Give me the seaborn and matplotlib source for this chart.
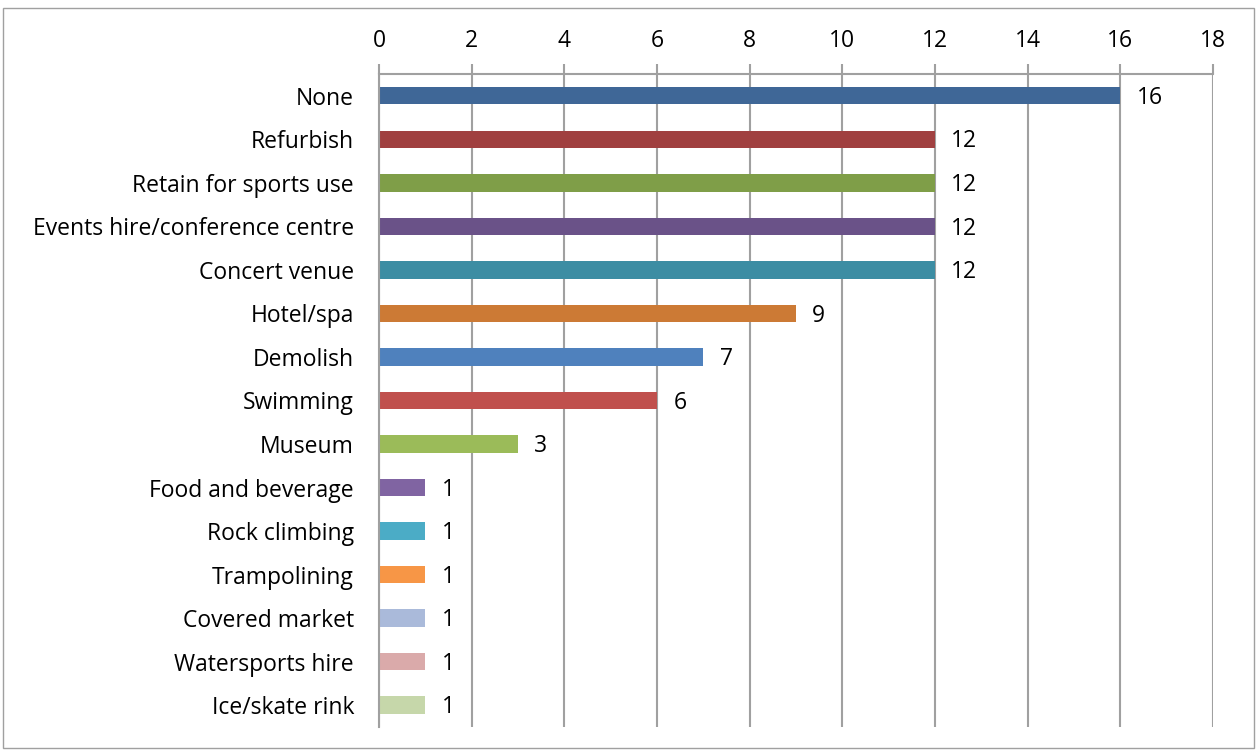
import matplotlib
matplotlib.use("Agg")
import matplotlib.pyplot as plt
import seaborn as sns
import pandas as pd
from matplotlib.patches import Rectangle

# data
categories = ["None", "Refurbish", "Retain for sports use", "Events hire/conference centre",
              "Concert venue", "Hotel/spa", "Demolish", "Swimming", "Museum",
              "Food and beverage", "Rock climbing", "Trampolining", "Covered market",
              "Watersports hire", "Ice/skate rink"]
counts = [16, 12, 12, 12, 12, 9, 7, 6, 3, 1, 1, 1, 1, 1, 1]
colors = ["#3F6797", "#A04040", "#7F9E48", "#6A5288", "#3C8DA3", "#CC7A35",
          "#4F81BD", "#C0504D", "#9BBB59", "#8064A2", "#4BACC6", "#F79646",
          "#AABADA", "#DAAAAA", "#C6D7AA"]
x_ticks = list(range(0, 19, 2))

df = pd.DataFrame({"category": categories, "count": counts})

sns.set_style("white")
plt.rcParams["font.family"] = ["Open Sans", "DejaVu Sans"]
plt.rcParams["text.color"] = "black"

fig = plt.figure(figsize=(12.58, 7.51), dpi=100)
ax = fig.add_axes([0.3013, 0.032, 0.6630, 0.8695])

sns.barplot(data=df, x="count", y="category", hue="category", palette=colors,
            orient="h", width=0.4, legend=False, ax=ax, saturation=1, linewidth=0)

ax.set_xlim(0, 18)
ax.set_xticks(x_ticks)
ax.set_ylim(len(categories) - 0.5, -0.5)
ax.xaxis.tick_top()
ax.grid(axis="x", color="#A0A0A0", linewidth=1.5)
ax.set_axisbelow(True)
ax.set_xlabel("")
ax.set_ylabel("")

# category boundary ticks on the left
ax.set_yticks([i - 0.5 for i in range(len(categories) + 1)], minor=True)
ax.tick_params(axis="y", which="major", length=0, labelsize=16.5, pad=18, labelcolor="black")
ax.tick_params(axis="y", which="minor", length=7, color="#A0A0A0", width=1.5, direction="out")
ax.tick_params(axis="x", which="major", length=7, color="#A0A0A0", width=1.5,
               labelsize=16.5, pad=8, direction="out", labelcolor="black")

for side in ["right", "bottom"]:
    ax.spines[side].set_visible(False)
for side in ["top", "left"]:
    ax.spines[side].set_color("#A0A0A0")
    ax.spines[side].set_linewidth(1.5)

# data labels
for i, v in enumerate(counts):
    ax.text(v + 0.35, i + 0.05, str(v), va="center", ha="left", fontsize=16.5, color="black")

# chart border
fig.patches.append(Rectangle((0.002, 0.004), 0.995, 0.985, transform=fig.transFigure,
                             fill=False, edgecolor="#A0A0A0", linewidth=1))

fig.savefig("out.png", dpi=100)
